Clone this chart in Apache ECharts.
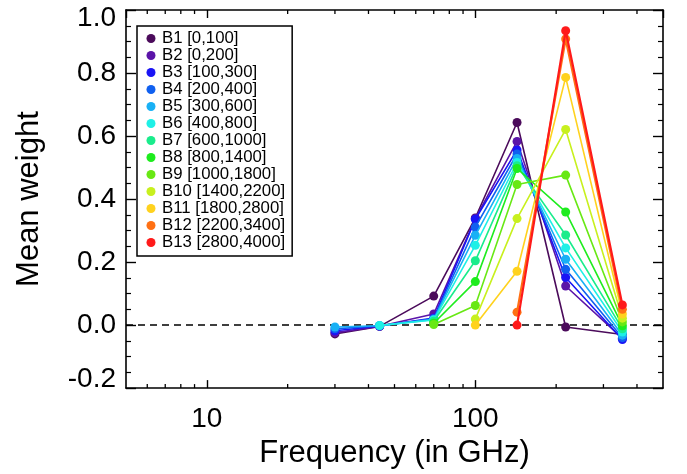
<!DOCTYPE html>
<html>
<head>
<meta charset="utf-8">
<script src="https://cdn.jsdelivr.net/npm/echarts@6/dist/echarts.min.js"></script>
<style>
html,body{margin:0;padding:0;background:#fff;}
#chart{width:687px;height:474px;}
</style>
</head>
<body>
<div id="chart"></div>
<script>
// Frequencies (GHz)
const freqs = [30, 44, 70, 100, 143, 217, 353];

// Band names (legend labels)
const bandNames = ['B1 [0,100]', 'B2 [0,200]', 'B3 [100,300]', 'B4 [200,400]', 'B5 [300,600]',
  'B6 [400,800]', 'B7 [600,1000]', 'B8 [800,1400]', 'B9 [1000,1800]', 'B10 [1400,2200]',
  'B11 [1800,2800]', 'B12 [2200,3400]', 'B13 [2800,4000]'];

// Mean weights per band, aligned with freqs (null = frequency not used)
const B1  = [-0.028, -0.004, 0.092, 0.340, 0.643, -0.006, -0.030];
const B2  = [-0.024, -0.004, 0.035, 0.338, 0.583, 0.124, -0.042];
const B3  = [-0.018, -0.003, 0.022, 0.336, 0.556, 0.151, -0.046];
const B4  = [-0.012, -0.002, 0.020, 0.311, 0.543, 0.177, -0.040];
const B5  = [-0.006, -0.002, 0.018, 0.285, 0.529, 0.209, -0.032];
const B6  = [null, -0.001, 0.016, 0.253, 0.516, 0.245, -0.022];
const B7  = [null, null, 0.012, 0.204, 0.506, 0.286, -0.012];
const B8  = [null, null, 0.006, 0.138, 0.497, 0.359, -0.002];
const B9  = [null, null, 0.002, 0.062, 0.446, 0.476, 0.010];
const B10 = [null, null, null, 0.019, 0.338, 0.621, 0.022];
const B11 = [null, null, null, 0.000, 0.171, 0.786, 0.035];
const B12 = [null, null, null, null, 0.041, 0.908, 0.050];
const B13 = [null, null, null, null, 0.000, 0.934, 0.064];
const bandValues = [B1, B2, B3, B4, B5, B6, B7, B8, B9, B10, B11, B12, B13];

const bandColors = ['#4b0b5b', '#5b14a8', '#1a14f5', '#1060f0', '#18b0f5', '#1ef0e6', '#1aec8c',
  '#1eec1e', '#68e814', '#c8f01e', '#ffd21e', '#ff7014', '#ff1a1a'];

// Axis settings
const xMin = 5, xMax = 500;
const yMin = -0.2, yMax = 1.0, yInterval = 0.2;
const xMinorTicks = [6, 7, 8, 9, 20, 30, 40, 50, 60, 70, 80, 90, 200, 300, 400];

const FONT = 'Liberation Sans, Arial, Helvetica, sans-serif';

const chart = echarts.init(document.getElementById('chart'), null, {renderer: 'canvas'});

const lineSeries = bandNames.map((name, i) => ({
  name: name,
  type: 'line',
  xAxisIndex: 0,
  yAxisIndex: 0,
  data: freqs.map((f, k) => bandValues[i][k] === null ? null : [f, bandValues[i][k]]).filter(d => d !== null),
  symbol: 'circle',
  symbolSize: 9,
  showSymbol: true,
  lineStyle: {color: bandColors[i], width: i >= 11 ? 2.2 : 1.6},
  itemStyle: {color: bandColors[i]},
  emphasis: {disabled: true},
  z: 10 + i
}));

// dashed zero line
lineSeries[0].markLine = {
  silent: true,
  symbol: ['none', 'none'],
  label: {show: false},
  lineStyle: {color: '#000', type: [7, 5], width: 1.5},
  data: [{yAxis: 0}]
};

const minorTickSeries = {
  type: 'custom',
  xAxisIndex: 0,
  yAxisIndex: 0,
  silent: true,
  clip: false,
  z: 5,
  data: xMinorTicks.map(v => [v, 0]),
  renderItem: function (params, api) {
    const v = api.value(0);
    const b = api.coord([v, yMin]);
    const t = api.coord([v, yMax]);
    return {
      type: 'group',
      children: [
        {type: 'line', shape: {x1: b[0], y1: b[1], x2: b[0], y2: b[1] - 4}, style: {stroke: '#000', lineWidth: 1.3}},
        {type: 'line', shape: {x1: t[0], y1: t[1], x2: t[0], y2: t[1] + 4}, style: {stroke: '#000', lineWidth: 1.3}}
      ]
    };
  }
};

const axisLineStyle = {show: true, onZero: false, lineStyle: {color: '#000', width: 1.6}};

const option = {
  animation: false,
  backgroundColor: '#fff',
  grid: {left: 126, right: 24, top: 10, bottom: 84, containLabel: false},
  legend: {
    data: bandNames,
    orient: 'vertical',
    left: 137,
    top: 26,
    padding: [4, 7, 5, 9.5],
    itemGap: 0,
    itemWidth: 12,
    itemHeight: 9,
    icon: 'circle',
    borderColor: '#000',
    borderWidth: 1.5,
    backgroundColor: '#fff',
    selectedMode: false,
    textStyle: {fontFamily: FONT, fontSize: 16.8, color: '#000', lineHeight: 16.8}
  },
  xAxis: [
    {
      type: 'log', logBase: 10, min: xMin, max: xMax, position: 'bottom',
      name: 'Frequency (in GHz)', nameLocation: 'middle', nameGap: 47,
      nameTextStyle: {fontFamily: FONT, fontSize: 31, color: '#000'},
      axisLine: axisLineStyle,
      axisTick: {show: true, inside: true, length: 8, lineStyle: {color: '#000', width: 1.4}},
      axisLabel: {fontFamily: FONT, fontSize: 28, color: '#000', margin: 17, showMinLabel: false, showMaxLabel: false},
      splitLine: {show: false}, minorTick: {show: false}
    },
    {
      type: 'log', logBase: 10, min: xMin, max: xMax, position: 'top',
      axisLine: axisLineStyle,
      axisTick: {show: true, inside: true, length: 8, lineStyle: {color: '#000', width: 1.4}},
      axisLabel: {show: false},
      splitLine: {show: false}
    }
  ],
  yAxis: [
    {
      type: 'value', min: yMin, max: yMax, interval: yInterval, position: 'left',
      name: 'Mean weight', nameLocation: 'middle', nameGap: 81,
      nameTextStyle: {fontFamily: FONT, fontSize: 31, color: '#000'},
      axisLine: axisLineStyle,
      axisTick: {show: true, inside: true, length: 10, lineStyle: {color: '#000', width: 1.4}},
      minorTick: {show: true, splitNumber: 4, length: 5, lineStyle: {color: '#000', width: 1.2}},
      axisLabel: {
        fontFamily: FONT, fontSize: 28, color: '#000', margin: 10,
        formatter: function (v) {
          const s = v.toFixed(1);
          if (Math.abs(v - yMax) < 1e-9) return '{top|' + s + '}';
          if (Math.abs(v - yMin) < 1e-9) return '{bot|' + s + '}';
          return s;
        },
        rich: {
          top: {fontFamily: FONT, fontSize: 28, color: '#000', padding: [16, 0, 0, 0]},
          bot: {fontFamily: FONT, fontSize: 28, color: '#000', padding: [0, 0, 18, 0]}
        }
      },
      splitLine: {show: false}, minorSplitLine: {show: false}
    },
    {
      type: 'value', min: yMin, max: yMax, interval: yInterval, position: 'right',
      axisLine: axisLineStyle,
      axisTick: {show: true, inside: true, length: 10, lineStyle: {color: '#000', width: 1.4}},
      minorTick: {show: true, splitNumber: 4, length: 5, lineStyle: {color: '#000', width: 1.2}},
      axisLabel: {show: false},
      splitLine: {show: false}
    }
  ],
  series: [minorTickSeries].concat(lineSeries)
};

chart.setOption(option);
</script>
</body>
</html>
